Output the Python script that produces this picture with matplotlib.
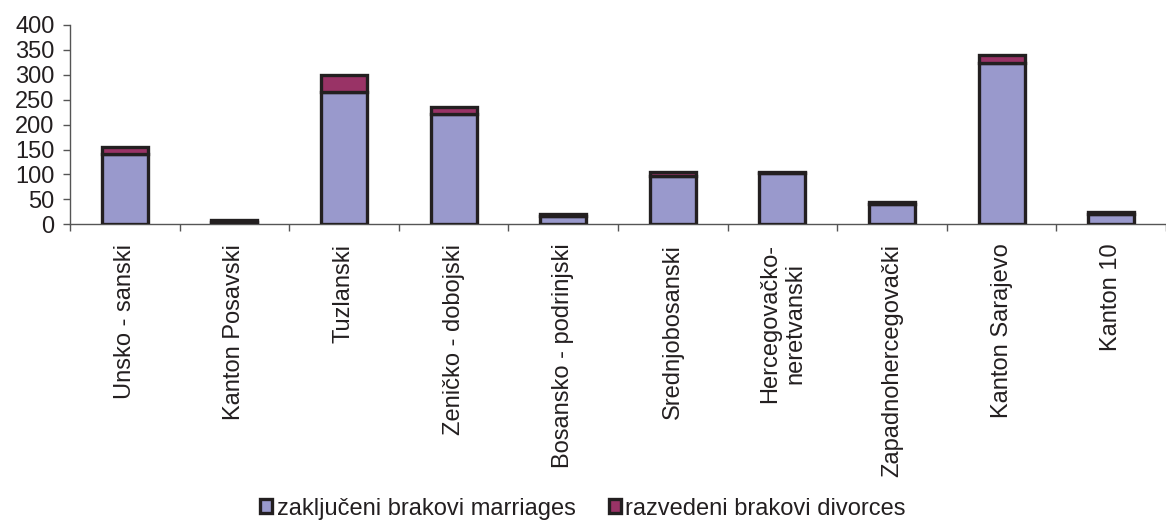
import matplotlib.pyplot as plt
import numpy as np

# --- Data ---
cantons = [
    "Unsko - sanski",
    "Kanton Posavski",
    "Tuzlanski",
    "Zeničko - dobojski",
    "Bosansko - podrinjski",
    "Srednjobosanski",
    "Hercegovačko-\nneretvanski",
    "Zapadnohercegovački",
    "Kanton Sarajevo",
    "Kanton 10",
]
marriages = [142, 5, 265, 222, 16, 97, 103, 41, 323, 20]
divorces = [13, 3, 35, 13, 4, 7, 2, 3, 16, 4]
yticks = [0, 50, 100, 150, 200, 250, 300, 350, 400]

MARRIAGE_COLOR = "#9999CC"
DIVORCE_COLOR = "#993366"
EDGE = "#231F20"
AXIS_COLOR = "#555555"

plt.rcParams["font.family"] = ["Liberation Sans", "DejaVu Sans"]

fig = plt.figure(figsize=(11.66, 5.2), dpi=100)
ax = fig.add_axes([0.06, 0.5687, 0.94, 0.3833])

x = np.arange(len(cantons))
ax.bar(x, marriages, width=0.42, color=MARRIAGE_COLOR, edgecolor=EDGE,
       linewidth=2.4, label="zaključeni brakovi marriages", zorder=3)
ax.bar(x, divorces, bottom=marriages, width=0.42, color=DIVORCE_COLOR,
       edgecolor=EDGE, linewidth=2.4, label="razvedeni brakovi divorces", zorder=3)

ax.set_xlim(-0.5, len(cantons) - 0.5)
ax.set_ylim(0, 400)
ax.set_yticks(yticks)

# category labels at centres, tick marks at boundaries
ax.set_xticks(x)
ax.set_xticklabels(cantons, rotation=90, fontsize=17, color=EDGE,
                   linespacing=1.2)
ax.set_xticks(np.arange(-0.5, len(cantons), 1.0), minor=True)
ax.tick_params(axis="x", which="major", length=0, pad=14)
ax.tick_params(axis="x", which="minor", length=5, width=1, color=AXIS_COLOR)
ax.tick_params(axis="y", length=5, width=1, color=AXIS_COLOR, labelsize=17,
               labelcolor=EDGE, pad=6)

for side in ["top", "right"]:
    ax.spines[side].set_visible(False)
for side in ["left", "bottom"]:
    ax.spines[side].set_color(AXIS_COLOR)
    ax.spines[side].set_linewidth(1)

fig.legend(loc="lower center", bbox_to_anchor=(0.5, -0.04), ncol=2,
           frameon=False, fontsize=17, handlelength=0.5, handleheight=0.5,
           handletextpad=0.2, columnspacing=1.4, labelcolor=EDGE)

fig.savefig("out.png", dpi=100)
